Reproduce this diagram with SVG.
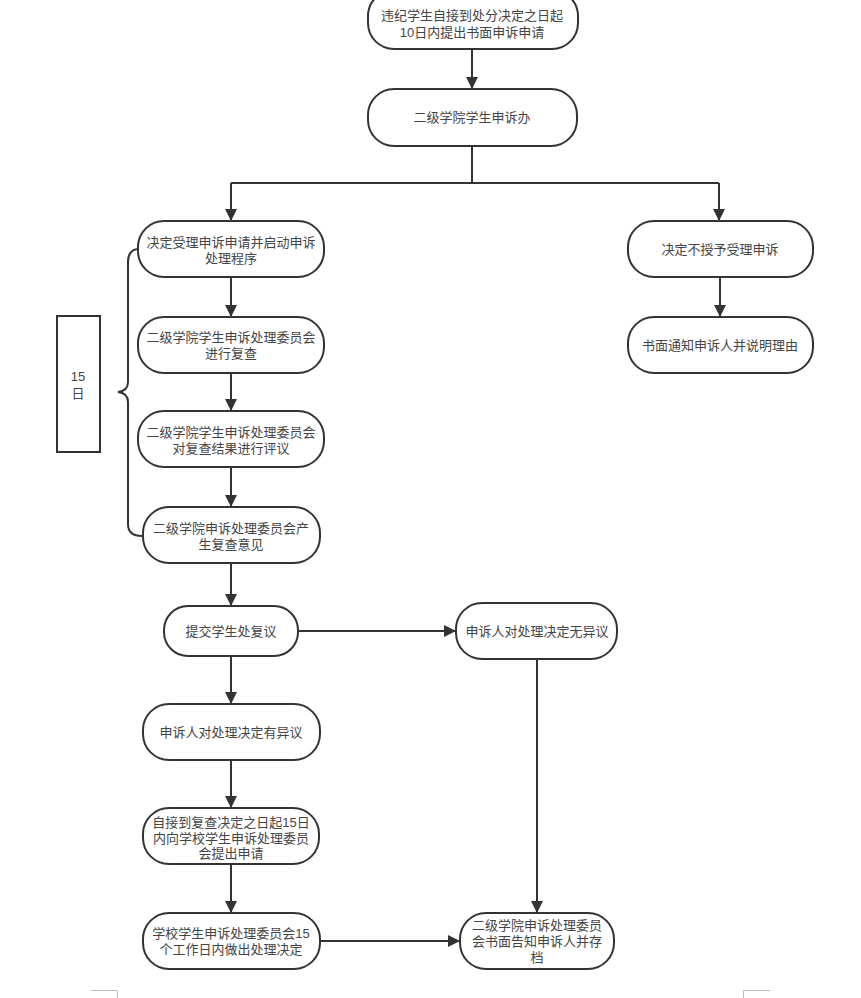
<svg xmlns="http://www.w3.org/2000/svg" width="861" height="998" viewBox="0 0 861 998">
<style>
.n{fill:#fff;stroke:#333;stroke-width:2}
.t{font-family:"Liberation Sans","Noto Sans CJK SC",sans-serif;font-size:13px;fill:#444;text-anchor:middle;dominant-baseline:central}
.c{fill:none;stroke:#333;stroke-width:2}
.a{marker-end:url(#ar)}
.g{fill:none;stroke:#bbb;stroke-width:1}
</style>
<defs>
<marker id="ar" viewBox="0 0 10 10" refX="10" refY="5" markerWidth="6" markerHeight="6" markerUnits="strokeWidth" orient="auto">
<path d="M0,0 L10,5 L0,10 z" fill="#333"/>
</marker>
</defs>
<rect width="861" height="998" fill="#fff"/>
<g id="connectors">
<path class="c a" d="M472,49 V89"/>
<path class="c" d="M472,146 V183 M231,183 H719"/>
<path class="c a" d="M231,183 V221"/>
<path class="c a" d="M719,183 V221"/>
<path class="c a" d="M720,277 V317"/>
<path class="c a" d="M231,277 V317"/>
<path class="c a" d="M231,373 V411"/>
<path class="c a" d="M231,467 V507"/>
<path class="c a" d="M231,563 V606"/>
<path class="c a" d="M298,631 H456"/>
<path class="c a" d="M231,656 V704"/>
<path class="c a" d="M537,659 V913"/>
<path class="c a" d="M231,760 V808"/>
<path class="c a" d="M231,864 V913"/>
<path class="c a" d="M320,941 H460"/>
<path class="c" d="M138,249 Q128,250 128,262 V382 Q128,391 118,392 Q128,393 128,402 V524 Q128,536 142,536"/>
</g>
<g id="n1"><rect class="n" x="368" y="-10" width="210" height="59" rx="26"/><text class="t" x="472" y="15">违纪学生自接到处分决定之日起</text><text class="t" x="472" y="32">10日内提出书面申诉申请</text></g>
<g id="n2"><rect class="n" x="368" y="89" width="209" height="57" rx="26"/><text class="t" x="472" y="117">二级学院学生申诉办</text></g>
<g id="n3"><rect class="n" x="138" y="221" width="186" height="56" rx="26"/><text class="t" x="231" y="242">决定受理申诉申请并启动申诉</text><text class="t" x="231" y="258">处理程序</text></g>
<g id="n4"><rect class="n" x="138" y="317" width="186" height="56" rx="26"/><text class="t" x="231" y="337">二级学院学生申诉处理委员会</text><text class="t" x="231" y="353">进行复查</text></g>
<g id="n5"><rect class="n" x="138" y="411" width="186" height="56" rx="26"/><text class="t" x="231" y="432">二级学院学生申诉处理委员会</text><text class="t" x="231" y="448">对复查结果进行评议</text></g>
<g id="n6"><rect class="n" x="143" y="507" width="177" height="56" rx="26"/><text class="t" x="231" y="528">二级学院申诉处理委员会产</text><text class="t" x="231" y="544">生复查意见</text></g>
<g id="days"><rect class="n" x="57" y="316" width="43" height="136"/><text class="t" x="78" y="376">15</text><text class="t" x="78" y="393">日</text></g>
<g id="r1"><rect class="n" x="628" y="221" width="185" height="56" rx="26"/><text class="t" x="720" y="249">决定不授予受理申诉</text></g>
<g id="r2"><rect class="n" x="628" y="317" width="185" height="56" rx="26"/><text class="t" x="720" y="345">书面通知申诉人并说明理由</text></g>
<g id="n7"><rect class="n" x="164" y="606" width="134" height="50" rx="24"/><text class="t" x="231" y="631">提交学生处复议</text></g>
<g id="n8"><rect class="n" x="456" y="603" width="161" height="56" rx="26"/><text class="t" x="537" y="631">申诉人对处理决定无异议</text></g>
<g id="n9"><rect class="n" x="143" y="704" width="177" height="56" rx="26"/><text class="t" x="231" y="732">申诉人对处理决定有异议</text></g>
<g id="n10"><rect class="n" x="143" y="808" width="176" height="56" rx="26"/><text class="t" x="231" y="822">自接到复查决定之日起15日</text><text class="t" x="231" y="838">内向学校学生申诉处理委员</text><text class="t" x="231" y="853">会提出申请</text></g>
<g id="n11"><rect class="n" x="143" y="913" width="177" height="56" rx="26"/><text class="t" x="231" y="933">学校学生申诉处理委员会15</text><text class="t" x="231" y="949">个工作日内做出处理决定</text></g>
<g id="n12"><rect class="n" x="460" y="913" width="154" height="56" rx="26"/><text class="t" x="537" y="925">二级学院申诉处理委员</text><text class="t" x="537" y="941">会书面告知申诉人并存</text><text class="t" x="537" y="957">档</text></g>
<path class="g" d="M91,990.5 H117.5 V998 M770,990.5 H743.5 V998"/>
</svg>
